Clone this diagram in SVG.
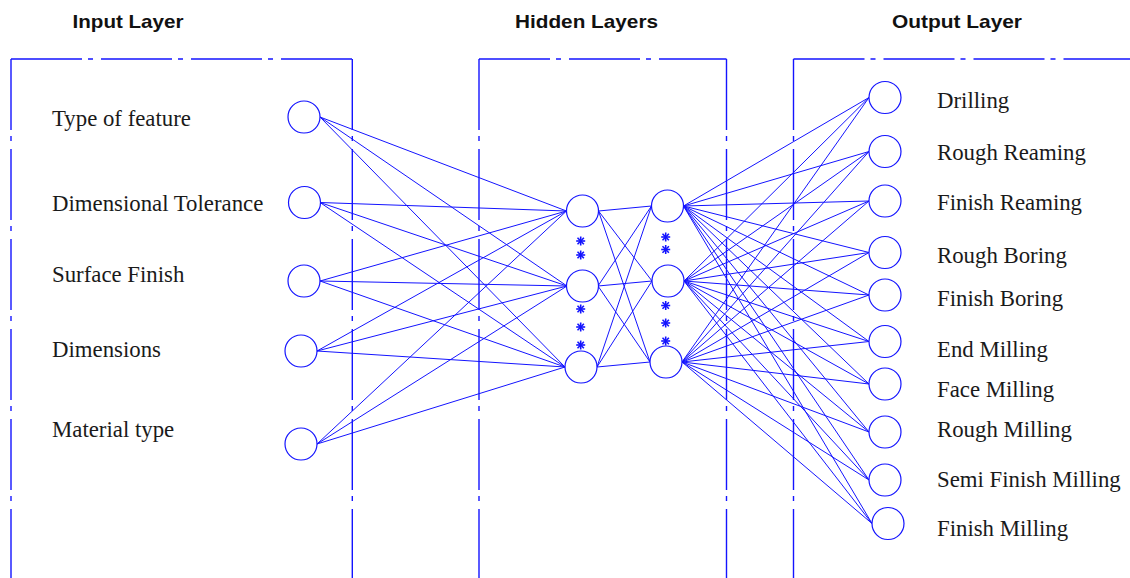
<svg xmlns="http://www.w3.org/2000/svg" width="1130" height="578" viewBox="0 0 1130 578">
<style>
.box{fill:none;stroke:#1414ff;stroke-width:1.4;stroke-dasharray:71 6 5 8}
.title{font-family:"Liberation Sans",Arial,sans-serif;font-weight:bold;font-size:19px;fill:#111}
.lbl{font-family:"Liberation Serif","Times New Roman",serif;font-size:22.8px;fill:#1a1a1a}
.node{fill:#fff;stroke:#1414ff;stroke-width:1.2}
.conn line{stroke:#1414ff;stroke-width:1}
.star{stroke:#1414ff;stroke-width:1.6}
</style>
<defs>
<g id="ast" class="star">
<line x1="0" y1="-4.5" x2="0" y2="4.5"/>
<line x1="-4.5" y1="0" x2="4.5" y2="0"/>
<line x1="-3.2" y1="-3.2" x2="3.2" y2="3.2"/>
<line x1="-3.2" y1="3.2" x2="3.2" y2="-3.2"/>
</g>
</defs>
<rect width="1130" height="578" fill="#fff"/>
<g id="frames">
<line class="box" x1="11" y1="59" x2="352" y2="59"/>
<line class="box" x1="11" y1="59" x2="11" y2="578"/>
<line class="box" x1="352.3" y1="59" x2="352.3" y2="578"/>
<line class="box" x1="479" y1="59" x2="726.5" y2="59"/>
<line class="box" x1="479" y1="59" x2="479" y2="578"/>
<line class="box" x1="726.5" y1="59" x2="726.5" y2="578"/>
<line class="box" x1="793.5" y1="59" x2="1130" y2="59"/>
<line class="box" x1="793.5" y1="59" x2="793.5" y2="578"/>
</g>
<g id="titles">
<text class="title" x="72.5" y="28" textLength="111" lengthAdjust="spacingAndGlyphs">Input Layer</text>
<text class="title" x="515" y="28" textLength="143" lengthAdjust="spacingAndGlyphs">Hidden Layers</text>
<text class="title" x="892" y="28" textLength="130" lengthAdjust="spacingAndGlyphs">Output Layer</text>
</g>
<g id="connectors" class="conn">
<line x1="320" y1="117" x2="566.5" y2="211"/>
<line x1="320" y1="117" x2="567" y2="286"/>
<line x1="320" y1="117" x2="565" y2="367"/>
<line x1="320" y1="202.5" x2="566.5" y2="211"/>
<line x1="320" y1="202.5" x2="567" y2="286"/>
<line x1="320" y1="202.5" x2="565" y2="367"/>
<line x1="320" y1="281" x2="566.5" y2="211"/>
<line x1="320" y1="281" x2="567" y2="286"/>
<line x1="320" y1="281" x2="565" y2="367"/>
<line x1="317" y1="351" x2="566.5" y2="211"/>
<line x1="317" y1="351" x2="567" y2="286"/>
<line x1="317" y1="351" x2="565" y2="367"/>
<line x1="317" y1="444" x2="566.5" y2="211"/>
<line x1="317" y1="444" x2="567" y2="286"/>
<line x1="317" y1="444" x2="565" y2="367"/>
<line x1="598.5" y1="211" x2="651.5" y2="206"/>
<line x1="598.5" y1="211" x2="652" y2="281"/>
<line x1="598.5" y1="211" x2="650" y2="362"/>
<line x1="598" y1="286" x2="651.5" y2="206"/>
<line x1="598" y1="286" x2="652" y2="281"/>
<line x1="598" y1="286" x2="650" y2="362"/>
<line x1="597" y1="367" x2="651.5" y2="206"/>
<line x1="597" y1="367" x2="652" y2="281"/>
<line x1="597" y1="367" x2="650" y2="362"/>
<line x1="683.5" y1="206" x2="869" y2="97.5"/>
<line x1="683.5" y1="206" x2="869" y2="151.5"/>
<line x1="683.5" y1="206" x2="869" y2="201"/>
<line x1="683.5" y1="206" x2="869" y2="252.5"/>
<line x1="683.5" y1="206" x2="869" y2="295"/>
<line x1="683.5" y1="206" x2="869" y2="341.5"/>
<line x1="683.5" y1="206" x2="869" y2="384"/>
<line x1="683.5" y1="206" x2="869" y2="432"/>
<line x1="683.5" y1="206" x2="869" y2="480"/>
<line x1="683.5" y1="206" x2="872" y2="523.5"/>
<line x1="684" y1="281" x2="869" y2="97.5"/>
<line x1="684" y1="281" x2="869" y2="151.5"/>
<line x1="684" y1="281" x2="869" y2="201"/>
<line x1="684" y1="281" x2="869" y2="252.5"/>
<line x1="684" y1="281" x2="869" y2="295"/>
<line x1="684" y1="281" x2="869" y2="341.5"/>
<line x1="684" y1="281" x2="869" y2="384"/>
<line x1="684" y1="281" x2="869" y2="432"/>
<line x1="684" y1="281" x2="869" y2="480"/>
<line x1="684" y1="281" x2="872" y2="523.5"/>
<line x1="682" y1="362" x2="869" y2="97.5"/>
<line x1="682" y1="362" x2="869" y2="151.5"/>
<line x1="682" y1="362" x2="869" y2="201"/>
<line x1="682" y1="362" x2="869" y2="252.5"/>
<line x1="682" y1="362" x2="869" y2="295"/>
<line x1="682" y1="362" x2="869" y2="341.5"/>
<line x1="682" y1="362" x2="869" y2="384"/>
<line x1="682" y1="362" x2="869" y2="432"/>
<line x1="682" y1="362" x2="869" y2="480"/>
<line x1="682" y1="362" x2="872" y2="523.5"/>
</g>
<g id="in1"><circle class="node" cx="304" cy="117" r="16"/><text class="lbl" x="52" y="126">Type of feature</text></g>
<g id="in2"><circle class="node" cx="304.5" cy="202.5" r="16"/><text class="lbl" x="52" y="211">Dimensional Tolerance</text></g>
<g id="in3"><circle class="node" cx="304" cy="281" r="16"/><text class="lbl" x="52" y="282">Surface Finish</text></g>
<g id="in4"><circle class="node" cx="301" cy="351" r="16"/><text class="lbl" x="52" y="357">Dimensions</text></g>
<g id="in5"><circle class="node" cx="301" cy="444" r="16"/><text class="lbl" x="52" y="437">Material type</text></g>
<g id="h1a"><circle class="node" cx="582.5" cy="211" r="16"/></g>
<g id="h1b"><circle class="node" cx="582.5" cy="286" r="16"/></g>
<g id="h1c"><circle class="node" cx="581" cy="367" r="16"/></g>
<g id="h2a"><circle class="node" cx="667.5" cy="206" r="16"/></g>
<g id="h2b"><circle class="node" cx="668" cy="281" r="16"/></g>
<g id="h2c"><circle class="node" cx="666" cy="362" r="16"/></g>
<g id="ellipsis">
<use href="#ast" x="580.7" y="241"/>
<use href="#ast" x="580.7" y="255"/>
<use href="#ast" x="580.7" y="309"/>
<use href="#ast" x="580.7" y="327"/>
<use href="#ast" x="580.7" y="345"/>
<use href="#ast" x="665.7" y="237"/>
<use href="#ast" x="665.7" y="249.5"/>
<use href="#ast" x="665.7" y="305.5"/>
<use href="#ast" x="665.7" y="323"/>
<use href="#ast" x="665.7" y="341"/>
</g>
<g id="out1"><circle class="node" cx="885" cy="97.5" r="16"/><text class="lbl" x="937" y="108">Drilling</text></g>
<g id="out2"><circle class="node" cx="885" cy="151.5" r="16"/><text class="lbl" x="937" y="160">Rough Reaming</text></g>
<g id="out3"><circle class="node" cx="885" cy="201" r="16"/><text class="lbl" x="937" y="210">Finish Reaming</text></g>
<g id="out4"><circle class="node" cx="885" cy="252.5" r="16"/><text class="lbl" x="937" y="263">Rough Boring</text></g>
<g id="out5"><circle class="node" cx="885" cy="295" r="16"/><text class="lbl" x="937" y="306">Finish Boring</text></g>
<g id="out6"><circle class="node" cx="885" cy="341.5" r="16"/><text class="lbl" x="937" y="357">End Milling</text></g>
<g id="out7"><circle class="node" cx="885" cy="384" r="16"/><text class="lbl" x="937" y="397">Face Milling</text></g>
<g id="out8"><circle class="node" cx="885" cy="432" r="16"/><text class="lbl" x="937" y="437">Rough Milling</text></g>
<g id="out9"><circle class="node" cx="885" cy="480" r="16"/><text class="lbl" x="937" y="487">Semi Finish Milling</text></g>
<g id="out10"><circle class="node" cx="888" cy="523.5" r="16"/><text class="lbl" x="937" y="536">Finish Milling</text></g>
</svg>
